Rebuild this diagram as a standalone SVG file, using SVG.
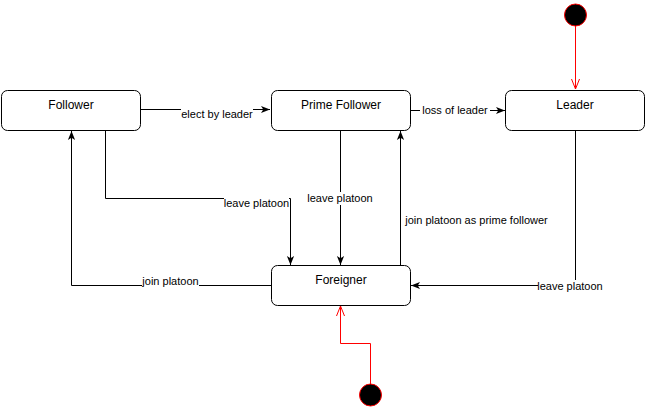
<svg xmlns="http://www.w3.org/2000/svg" width="646" height="411" viewBox="0 0 646 411">
<style>
.node rect{fill:#ffffff;stroke:#000000;stroke-width:1}
.ntext{font-family:"Liberation Sans",Arial,sans-serif;font-size:12px;fill:#000000;text-anchor:middle}
.ltext{font-family:"Liberation Sans",Arial,sans-serif;font-size:11px;fill:#000000;text-anchor:middle}
.edge{fill:none;stroke:#000000;stroke-width:1}
.redge{fill:none;stroke:#ff0000;stroke-width:1}
.lbg{fill:#ffffff}
.init{fill:#000000;stroke:#ff0000;stroke-width:1}
</style>
<defs>
<marker id="arr" markerUnits="userSpaceOnUse" viewBox="0 0 10 10" markerWidth="9" markerHeight="9" refX="10" refY="5" orient="auto">
<path d="M0,1 L10,5 L0,9 L2.5,5 Z" fill="#000000"/>
</marker>
<marker id="open" markerUnits="userSpaceOnUse" viewBox="0 0 10 10" markerWidth="10" markerHeight="10" refX="10" refY="5" orient="auto">
<path d="M0,1 L10,5 L0,9" fill="none" stroke="#ff0000" stroke-width="1"/>
</marker>
</defs>
<rect x="0" y="0" width="646" height="411" fill="#ffffff"/>
<g id="connectors">
<path class="edge" d="M141,109.5 L270,109.5" marker-end="url(#arr)"/>
<path class="edge" d="M411,110.5 L505,110.5" marker-end="url(#arr)"/>
<path class="edge" d="M105.5,131 L105.5,198.5 L290.5,198.5 L290.5,265" marker-end="url(#arr)"/>
<path class="edge" d="M271,285.5 L71.5,285.5 L71.5,131" marker-end="url(#arr)"/>
<path class="edge" d="M340.5,131 L340.5,265" marker-end="url(#arr)"/>
<path class="edge" d="M400.5,265 L400.5,131" marker-end="url(#arr)"/>
<path class="edge" d="M575.5,131 L575.5,285.5 L411,285.5" marker-end="url(#arr)"/>
<path class="redge" d="M575.5,26 L575.5,89" marker-end="url(#open)"/>
<path class="redge" d="M370.5,384 L370.5,343.5 L340.5,343.5 L340.5,306" marker-end="url(#open)"/>
<rect class="lbg" x="181" y="108" width="72" height="13"/>
<text class="ltext" x="217" y="118">elect by leader</text>
<rect class="lbg" x="420" y="104" width="70" height="13"/>
<text class="ltext" x="455" y="114">loss of leader</text>
<rect class="lbg" x="224" y="197" width="65" height="13"/>
<text class="ltext" x="256.5" y="207">leave platoon</text>
<rect class="lbg" x="307" y="192" width="66" height="13"/>
<text class="ltext" x="340" y="202">leave platoon</text>
<text class="ltext" x="476.5" y="224">join platoon as prime follower</text>
<rect class="lbg" x="142" y="275" width="57" height="13"/>
<text class="ltext" x="170.5" y="285">join platoon</text>
<rect class="lbg" x="538" y="280" width="64" height="13"/>
<text class="ltext" x="570" y="290">leave platoon</text>
</g>
<g id="follower" class="node">
<rect x="1.5" y="90.5" width="139" height="40" rx="6" ry="6"/>
<text class="ntext" x="71" y="109">Follower</text>
</g>
<g id="prime-follower" class="node">
<rect x="271.5" y="90.5" width="139" height="40" rx="6" ry="6"/>
<text class="ntext" x="341" y="109">Prime Follower</text>
</g>
<g id="leader" class="node">
<rect x="505.5" y="90.5" width="139" height="40" rx="6" ry="6"/>
<text class="ntext" x="575" y="109">Leader</text>
</g>
<g id="foreigner" class="node">
<rect x="271.5" y="265.5" width="139" height="40" rx="6" ry="6"/>
<text class="ntext" x="341" y="284">Foreigner</text>
</g>
<g id="initial-leader">
<circle class="init" cx="575.5" cy="15" r="11"/>
</g>
<g id="initial-foreigner">
<circle class="init" cx="370.5" cy="395" r="11"/>
</g>
</svg>
